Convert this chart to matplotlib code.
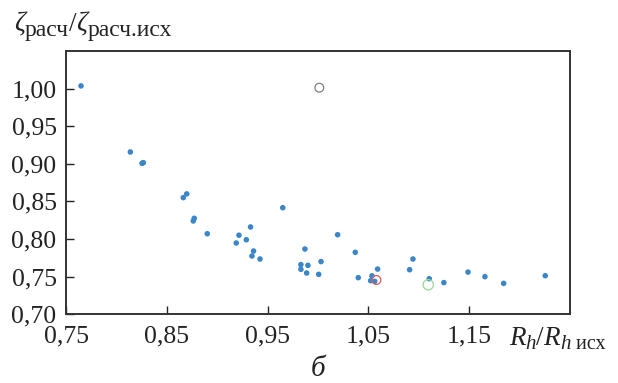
import matplotlib
matplotlib.use("Agg")
import matplotlib.pyplot as plt
from matplotlib.transforms import IdentityTransform

plt.rcParams['font.family'] = ['Liberation Serif', 'DejaVu Serif']

# Data (blue filled points)
x_pts = [0.7646, 0.8136, 0.8252, 0.8265, 0.8662, 0.8696, 0.8761, 0.8771, 0.890,
         0.965, 0.9188, 0.9215, 0.9288, 0.933, 0.936, 0.9344, 0.9424, 1.0195,
         0.987, 1.003, 0.983, 0.990, 0.983, 1.037, 0.9887, 1.0007, 1.040, 1.0536,
         1.0523, 1.0563, 1.0592, 1.091, 1.0943, 1.1105, 1.125, 1.149, 1.1658,
         1.1844, 1.2257]
y_pts = [1.0036, 0.9157, 0.9007, 0.9015, 0.855, 0.860, 0.824, 0.8275, 0.807,
         0.8416, 0.7947, 0.805, 0.799, 0.816, 0.784, 0.7774, 0.7734, 0.8057,
         0.7867, 0.770, 0.766, 0.765, 0.7597, 0.7823, 0.7548, 0.753, 0.7486, 0.751,
         0.7446, 0.7437, 0.760, 0.7592, 0.7734, 0.7472, 0.742, 0.756, 0.7499,
         0.741, 0.7512]

# Open reference circles
open_x = [1.0013, 1.058, 1.1095]
open_y = [1.0012, 0.7455, 0.7392]
open_colors = ['#808080', '#e05a5a', '#96d896']
open_sizes = [40, 40, 55]

x_ticks = [0.75, 0.85, 0.95, 1.05, 1.15]
x_ticklabels = ['0,75', '0,85', '0,95', '1,05', '1,15']
y_ticks = [0.70, 0.75, 0.80, 0.85, 0.90, 0.95, 1.00]
y_ticklabels = ['0,70', '0,75', '0,80', '0,85', '0,90', '0,95', '1,00']

W, H = 618, 383
fig = plt.figure(figsize=(W / 100, H / 100), dpi=100)
ax = fig.add_axes([66.3 / W, 1 - 314.2 / H, (569.7 - 66.3) / W, (314.2 - 51) / H])

ax.scatter(x_pts, y_pts, s=16, color='#3a86c8', edgecolors='none', zorder=3)
for xo, yo, c, s in zip(open_x, open_y, open_colors, open_sizes):
    ax.scatter([xo], [yo], s=s, facecolors='none', edgecolors=c, linewidths=0.9, zorder=4)

ax.set_xlim(0.75, 1.25)
ax.set_ylim(0.70, 1.05)
ax.set_xticks(x_ticks)
ax.set_xticklabels(x_ticklabels)
ax.set_yticks(y_ticks)
ax.set_yticklabels(y_ticklabels)
ax.tick_params(direction='in', length=6, width=1.0, labelsize=18.5, colors='#222222')
ax.tick_params(axis='x', pad=8)
ax.tick_params(axis='y', pad=7)
for sp in ax.spines.values():
    sp.set_linewidth(1.4)
    sp.set_color('#333333')

renderer = fig.canvas.get_renderer()


def place(pieces, x0_px, base_px):
    """pieces: (text, fontsize, dy_px, style); coordinates in image pixels (top-left origin)."""
    x = x0_px
    for txt, size, dy, style in pieces:
        t = fig.text(x, H - (base_px + dy), txt, fontsize=size, style=style,
                     ha='left', va='baseline', color='#222222',
                     transform=IdentityTransform())
        bb = t.get_window_extent(renderer)
        x = bb.x1


place([('ζ', 19.5, 0, 'italic'), ('расч', 17, 5, 'normal'), ('/', 19.5, 0, 'normal'),
       ('ζ', 19.5, 0, 'italic'), ('расч.исх', 17, 5, 'normal')], 14, 31)

place([('R', 19.5, 0, 'italic'), ('h', 15, 4, 'italic'), ('/', 19.5, 0, 'normal'),
       ('R', 19.5, 0, 'italic'), ('h', 15, 4, 'italic'), (' исх', 14.5, 4, 'normal')], 509, 345)

fig.text(318 / W, 1 - 376 / H, 'б', fontsize=21, style='italic',
         ha='center', va='baseline', color='#222222')

fig.savefig('out.png', dpi=100)
